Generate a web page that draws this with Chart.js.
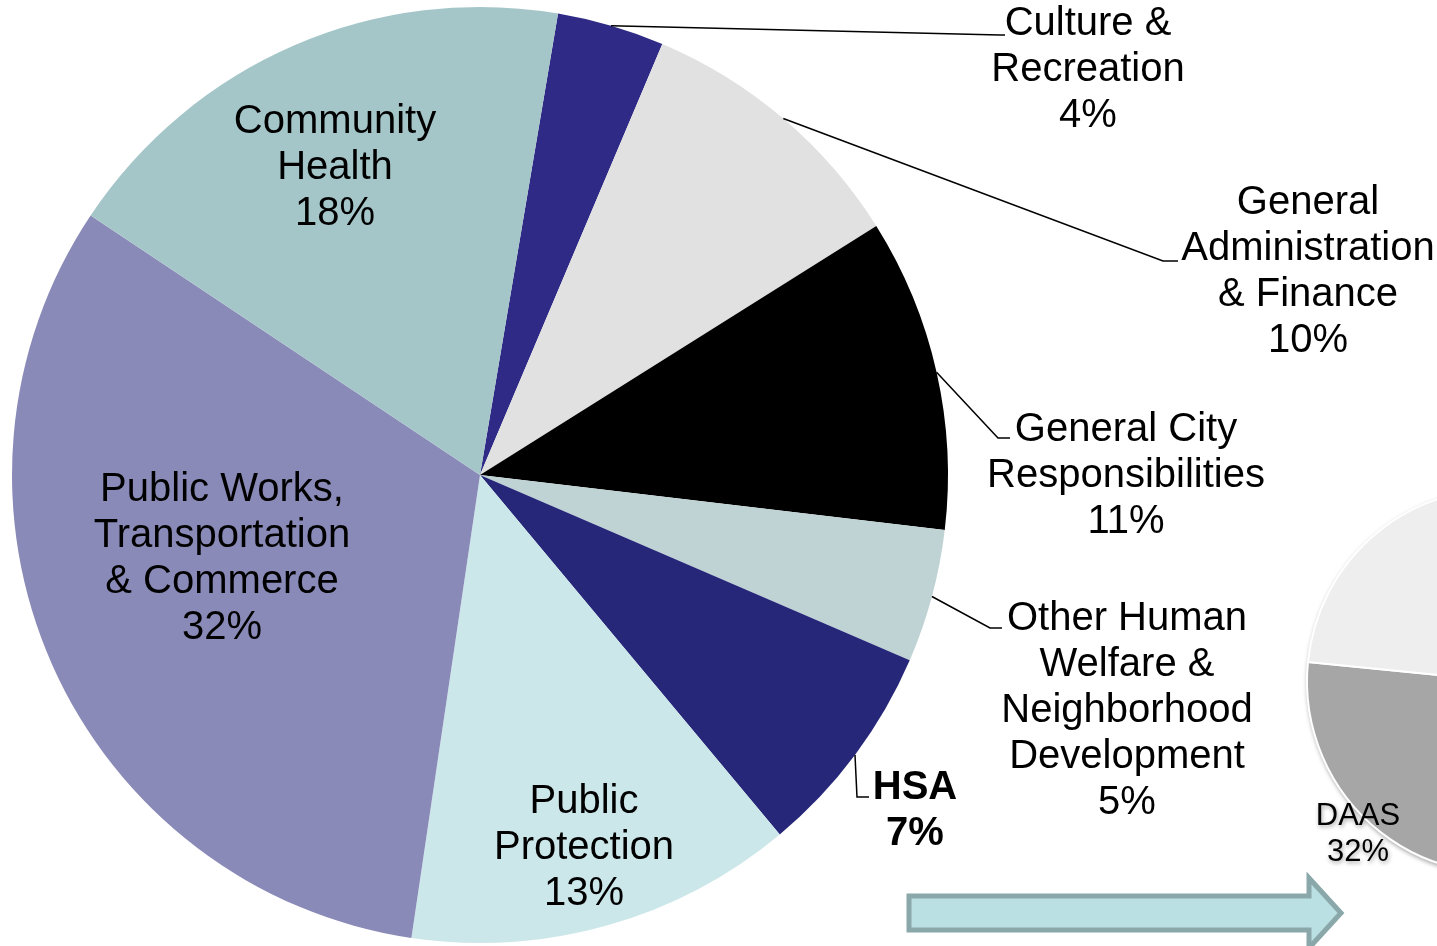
<!DOCTYPE html>
<html>
<head>
<meta charset="utf-8">
<title>Budget by Service Area</title>
<script src="https://cdn.jsdelivr.net/npm/chart.js@4.4.0/dist/chart.umd.min.js"></script>
<style>
  html, body { margin: 0; padding: 0; background: #ffffff; overflow: hidden; }
  #wrap { position: relative; width: 1437px; height: 946px; overflow: hidden; }
  #subChart { position: absolute; left: 1300px; top: 482px; filter: drop-shadow(1px 2px 2px rgba(0, 0, 0, 0.35)); }
  #mainChart { position: absolute; left: 0; top: 0; }
</style>
</head>
<body>
<div id="wrap">
  <canvas id="subChart" width="398" height="398"></canvas>
  <canvas id="mainChart" width="1437" height="946"></canvas>
</div>
<script>
// Data (clockwise, starting at Culture & Recreation)
const categories = [
  'Culture & Recreation',
  'General Administration & Finance',
  'General City Responsibilities',
  'Other Human Welfare & Neighborhood Development',
  'HSA',
  'Public Protection',
  'Public Works, Transportation & Commerce',
  'Community Health'
];
const values = [3.7, 9.7, 10.8, 4.6, 7.45, 13.4, 32.0, 18.3];

// how each category name wraps on the chart
const labelLines = [
  ['Culture &', 'Recreation'],
  ['General', 'Administration', '& Finance'],
  ['General City', 'Responsibilities'],
  ['Other Human', 'Welfare &', 'Neighborhood', 'Development'],
  ['HSA'],
  ['Public', 'Protection'],
  ['Public Works,', 'Transportation', '& Commerce'],
  ['Community', 'Health']
];

// HSA breakdown (only the DAAS share is visible)
const subCategories = ['DAAS', 'Other HSA'];
const subValues = [32, 68];

// Styles
const colors = ['#2e2a86', '#e1e1e1', '#000000', '#bfd3d5', '#27277a', '#cce7ea', '#8a8ab8', '#a5c6c8'];
const subColors = ['#a6a6a6', '#eeeeee'];
const FONT = '"Liberation Sans", Arial, sans-serif';
const LINE_H = 46;
const HSA_INDEX = 4;

// Label anchor (centre x, first line centre y) and optional leader elbow [x, y, endX]
const labelLayout = [
  { x: 1088, y: 24,  elbow: [1000, 35, 1005] },
  { x: 1308, y: 203, elbow: [1163, 261, 1178] },
  { x: 1126, y: 430, elbow: [998, 438, 1010] },
  { x: 1127, y: 619, elbow: [990, 628, 1002] },
  { x: 915,  y: 788, elbow: [857, 797, 869] },
  { x: 584,  y: 802 },
  { x: 222,  y: 490 },
  { x: 335,  y: 122 }
];

// Block arrow pointing at the HSA breakdown
function drawArrow(ctx) {
  ctx.beginPath();
  ctx.moveTo(909, 896);
  ctx.lineTo(1309, 896);
  ctx.lineTo(1309, 878);
  ctx.lineTo(1341, 913);
  ctx.lineTo(1309, 948);
  ctx.lineTo(1309, 930);
  ctx.lineTo(909, 930);
  ctx.closePath();
  ctx.fillStyle = '#bae0e3';
  ctx.fill();
  ctx.lineWidth = 5;
  ctx.lineJoin = 'miter';
  ctx.strokeStyle = '#8aa8aa';
  ctx.stroke();
}

const sliceLabels = {
  id: 'sliceLabels',
  afterDatasetsDraw(chart) {
    const ctx = chart.ctx;
    const arcs = chart.getDatasetMeta(0).data;
    ctx.save();
    ctx.textAlign = 'center';
    ctx.textBaseline = 'middle';
    arcs.forEach((arc, i) => {
      const lay = labelLayout[i];
      const lines = labelLines[i].concat(Math.round(values[i]) + '%');
      ctx.fillStyle = '#000000';
      ctx.font = (i === HSA_INDEX ? 'bold ' : '') + '40px ' + FONT;
      lines.forEach((t, k) => ctx.fillText(t, lay.x, lay.y + k * LINE_H));

      if (lay.elbow) {
        // leader line from the middle of the slice's outer edge
        const mid = (arc.startAngle + arc.endAngle) / 2;
        const sx = arc.x + Math.cos(mid) * arc.outerRadius;
        const sy = arc.y + Math.sin(mid) * arc.outerRadius;
        ctx.beginPath();
        ctx.moveTo(sx, sy);
        ctx.lineTo(lay.elbow[0], lay.elbow[1]);
        ctx.lineTo(lay.elbow[2], lay.elbow[1]);
        ctx.lineWidth = 1.5;
        ctx.strokeStyle = '#000000';
        ctx.stroke();
      }
    });
    drawArrow(ctx);
    ctx.restore();
  }
};

new Chart(document.getElementById('mainChart'), {
  type: 'pie',
  data: {
    labels: categories,
    datasets: [{
      data: values,
      backgroundColor: colors,
      borderWidth: 0,
      hoverOffset: 0
    }]
  },
  options: {
    responsive: false,
    animation: false,
    rotation: 9.6,
    layout: { padding: { left: 12, top: 7, right: 489, bottom: 3 } },
    plugins: {
      legend: { display: false },
      tooltip: { enabled: false }
    }
  },
  plugins: [sliceLabels]
});

const subLabels = {
  id: 'subLabels',
  afterDatasetsDraw(chart) {
    const ctx = chart.ctx;
    ctx.save();
    ctx.textAlign = 'center';
    ctx.textBaseline = 'middle';
    ctx.fillStyle = '#000000';
    ctx.font = '31px ' + FONT;
    ctx.fillText(subCategories[0], 58, 334);
    ctx.fillText(subValues[0] + '%', 58, 370);
    ctx.restore();
  }
};

new Chart(document.getElementById('subChart'), {
  type: 'pie',
  data: {
    labels: subCategories,
    datasets: [{
      data: subValues,
      backgroundColor: subColors,
      borderColor: '#ffffff',
      borderWidth: 2,
      hoverOffset: 0
    }]
  },
  options: {
    responsive: false,
    animation: false,
    rotation: 160.5,
    layout: { padding: 6 },
    plugins: {
      legend: { display: false },
      tooltip: { enabled: false }
    }
  },
  plugins: [subLabels]
});
</script>
</body>
</html>
